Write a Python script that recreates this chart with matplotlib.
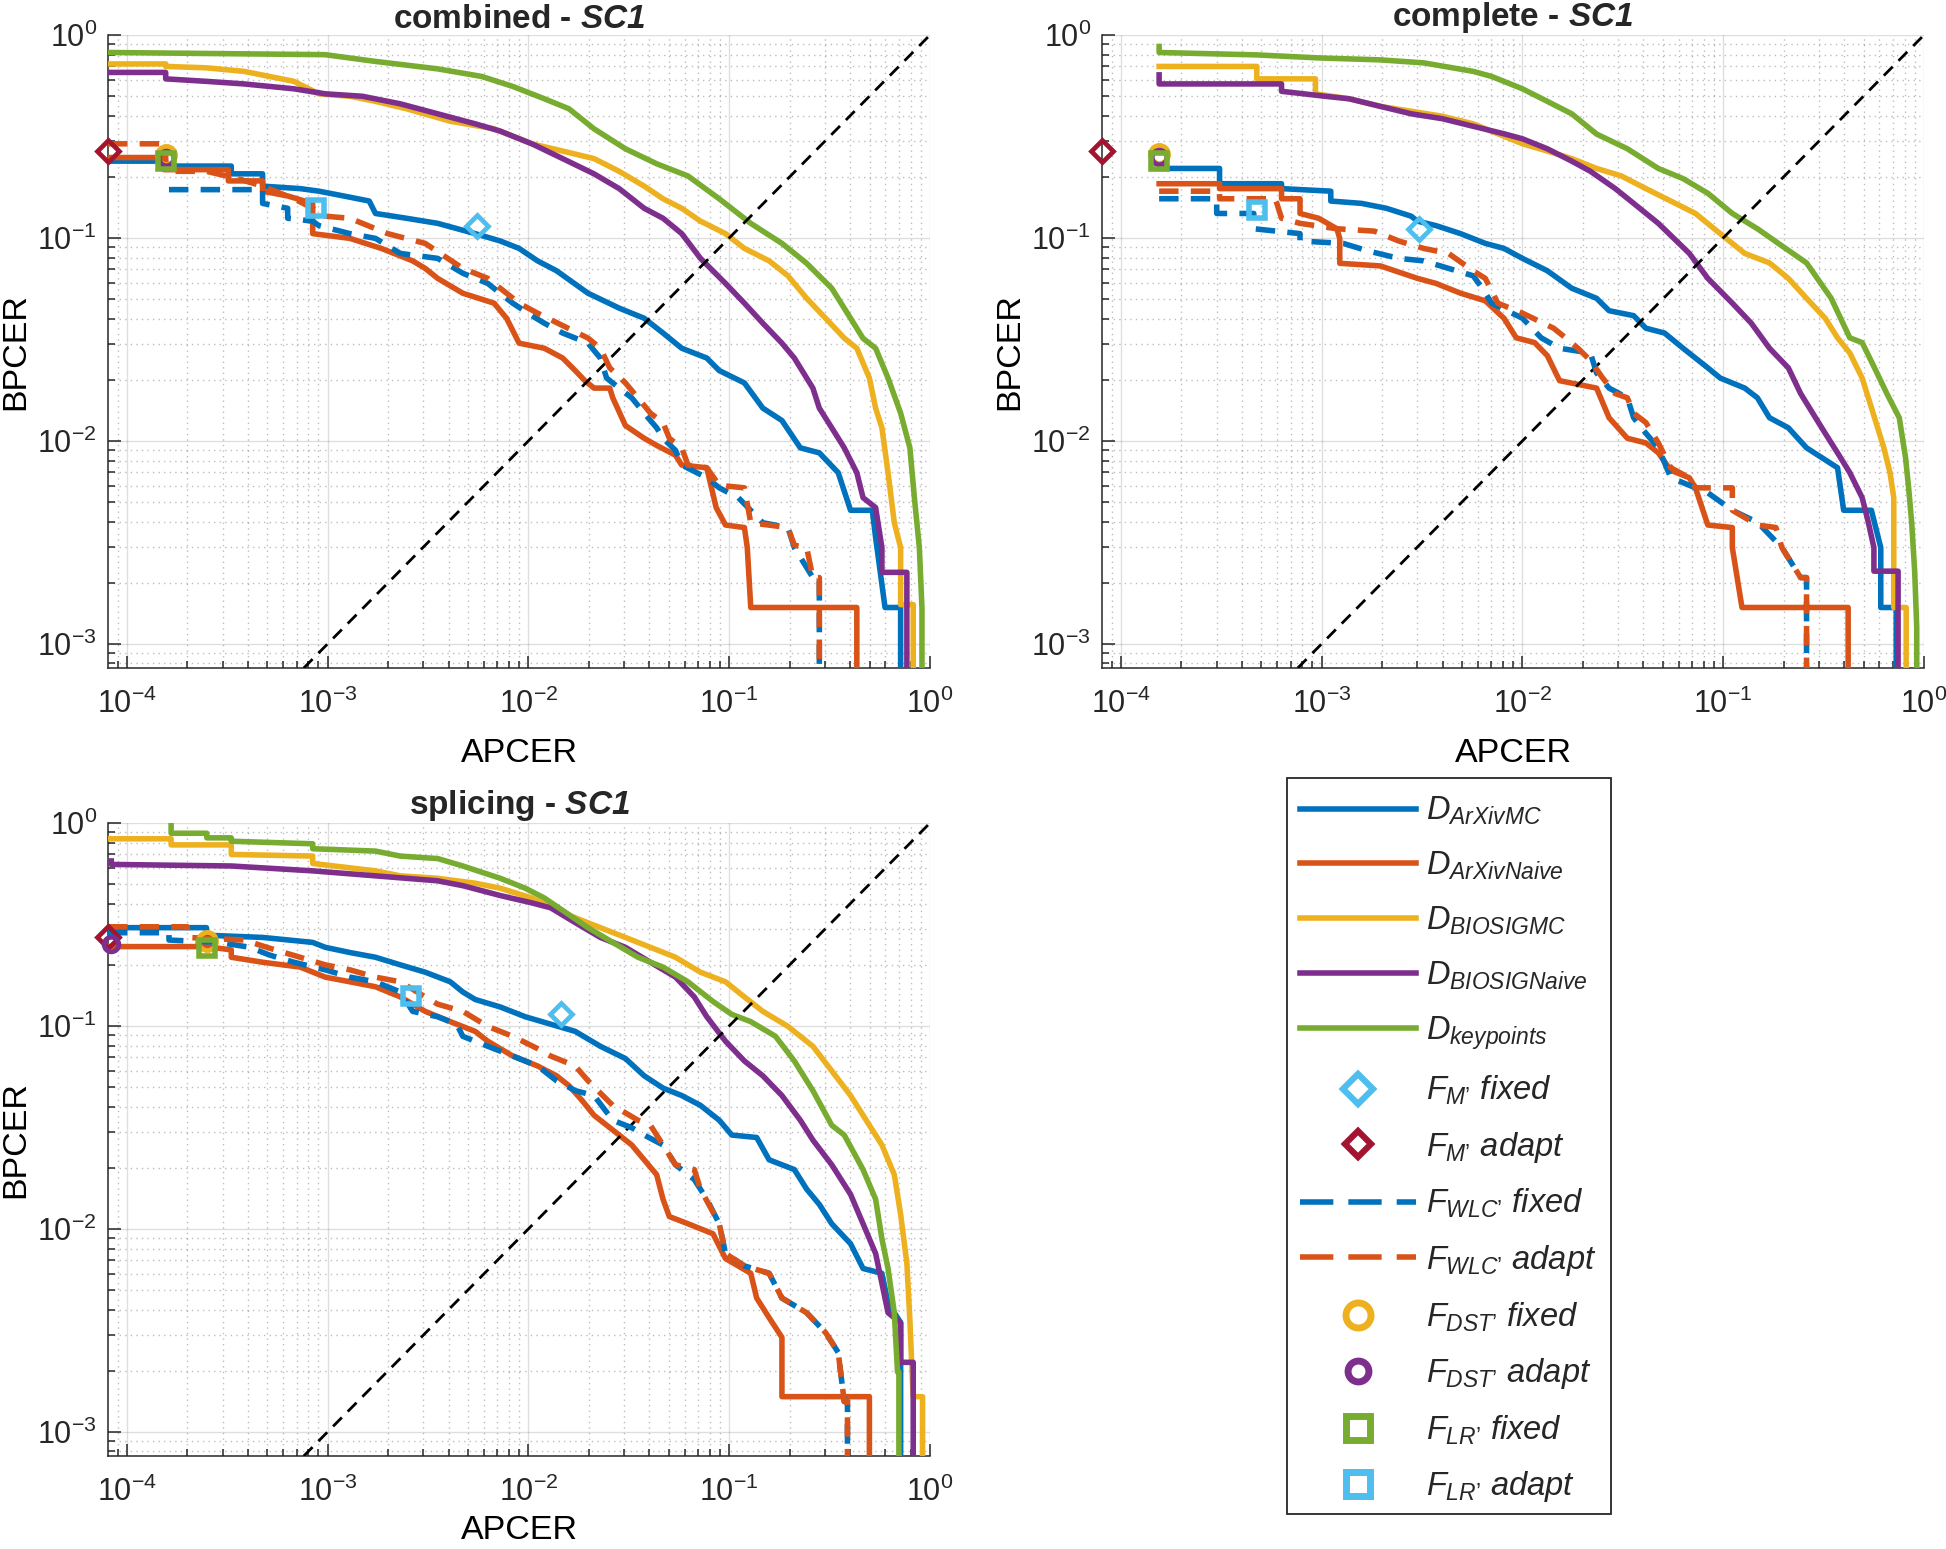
import matplotlib
matplotlib.use("Agg")
import matplotlib.pyplot as plt
import numpy as np
from matplotlib.lines import Line2D
from matplotlib.patches import Rectangle
from matplotlib.ticker import LogLocator, NullFormatter

plt.rcParams.update({
    "font.family": ["Liberation Sans", "DejaVu Sans"],
    "mathtext.fontset": "custom",
    "mathtext.rm": "Liberation Sans",
    "mathtext.it": "Liberation Sans:italic",
    "mathtext.bf": "Liberation Sans:bold",
    "mathtext.bfit": "Liberation Sans:italic:bold",
    "axes.edgecolor": "#262626",
    "xtick.color": "#262626",
    "ytick.color": "#262626",
    "text.color": "#262626",
})

# ---- data: (APCER, BPCER); BPCER 0 = curve runs off the bottom
# combined
CMB_MC = [(8.05e-5, 0.239), (1.56e-4, 0.239), (1.56e-4, 0.226), (3.31e-4, 0.226), (3.31e-4, 0.207),
          (4.74e-4, 0.207), (4.74e-4, 0.180), (7.29e-4, 0.175), (9.04e-4, 0.170), (1.20e-3, 0.161),
          (1.61e-3, 0.152), (1.73e-3, 0.132), (2.47e-3, 0.125), (3.53e-3, 0.118), (5.43e-3, 0.105),
          (7.24e-3, 0.0966), (8.98e-3, 0.0888), (0.0111, 0.0771), (0.0138, 0.0689), (0.0198, 0.0534),
          (0.0283, 0.0451), (0.0377, 0.0402), (0.0468, 0.0340), (0.0580, 0.0286), (0.0773, 0.0256),
          (0.0892, 0.0222), (0.119, 0.0193), (0.147, 0.0145), (0.183, 0.0126), (0.226, 0.00924),
          (0.281, 0.00873), (0.349, 0.00697), (0.402, 0.00455), (0.516, 0.00455), (0.536, 0.00334),
          (0.597, 0.00151), (0.714, 0.00151), (0.714, 0)]
CMB_NAIVE = [(8.05e-5, 0.249), (1.53e-4, 0.249), (1.53e-4, 0.217), (3.20e-4, 0.217), (3.20e-4, 0.191),
             (4.74e-4, 0.191), (4.74e-4, 0.170), (6.32e-4, 0.161), (8.42e-4, 0.148), (8.42e-4, 0.105),
             (1.29e-3, 0.0995), (1.85e-3, 0.0888), (2.65e-3, 0.0771), (3.06e-3, 0.0708), (3.53e-3, 0.0632),
             (4.71e-3, 0.0534), (6.74e-3, 0.0477), (7.78e-3, 0.0402), (8.98e-3, 0.0303), (0.0120, 0.0286),
             (0.0148, 0.0256), (0.0171, 0.0222), (0.0191, 0.0198), (0.0212, 0.0182), (0.0254, 0.0182),
             (0.0263, 0.0163), (0.0304, 0.0119), (0.0377, 0.0103), (0.0435, 0.0095), (0.0540, 0.0085),
             (0.0580, 0.0076), (0.0773, 0.00737), (0.0861, 0.00469), (0.0958, 0.00385), (0.119, 0.00374),
             (0.123, 0.00298), (0.128, 0.00151), (0.432, 0.00151), (0.432, 0)]
CMB_BMC = [(8.05e-5, 0.720), (1.56e-4, 0.720), (1.56e-4, 0.700), (2.49e-4, 0.689), (3.83e-4, 0.662),
           (6.79e-4, 0.591), (9.04e-4, 0.513), (1.29e-3, 0.499), (1.73e-3, 0.471), (2.47e-3, 0.433),
           (4.08e-3, 0.376), (6.74e-3, 0.345), (0.0104, 0.291), (0.0148, 0.268), (0.0212, 0.246),
           (0.0283, 0.213), (0.0377, 0.180), (0.0468, 0.156), (0.0580, 0.140), (0.0719, 0.121),
           (0.0958, 0.105), (0.119, 0.0888), (0.158, 0.0771), (0.196, 0.0651), (0.243, 0.0504),
           (0.302, 0.0402), (0.374, 0.0321), (0.432, 0.0286), (0.499, 0.0204), (0.536, 0.0145),
           (0.576, 0.0116), (0.618, 0.00697), (0.664, 0.00395), (0.714, 0.00298), (0.714, 0.00156),
           (0.825, 0.00156), (0.825, 0)]
CMB_BNAIVE = [(8.05e-5, 0.654), (1.56e-4, 0.654), (1.56e-4, 0.608), (2.49e-4, 0.591), (3.83e-4, 0.574),
              (6.79e-4, 0.543), (9.73e-4, 0.513), (1.49e-3, 0.499), (2.30e-3, 0.458), (3.53e-3, 0.409),
              (5.43e-3, 0.365), (7.24e-3, 0.336), (0.0104, 0.291), (0.0148, 0.246), (0.0212, 0.207),
              (0.0283, 0.175), (0.0377, 0.140), (0.0468, 0.125), (0.0580, 0.105), (0.0719, 0.0793),
              (0.0958, 0.0597), (0.119, 0.0477), (0.147, 0.0380), (0.183, 0.0303), (0.211, 0.0256),
              (0.261, 0.0182), (0.281, 0.0145), (0.324, 0.0116), (0.374, 0.00924), (0.432, 0.00697),
              (0.464, 0.00525), (0.536, 0.00469), (0.576, 0.00298), (0.576, 0.00225), (0.767, 0.00225),
              (0.767, 0)]
CMB_KP = [(8.05e-5, 0.820), (9.70e-4, 0.800), (1.73e-3, 0.741), (3.53e-3, 0.681), (5.84e-3, 0.625),
          (8.35e-3, 0.558), (0.0120, 0.485), (0.0159, 0.433), (0.0212, 0.345), (0.0304, 0.275),
          (0.0435, 0.232), (0.0623, 0.202), (0.0891, 0.156), (0.128, 0.118), (0.183, 0.094),
          (0.243, 0.075), (0.324, 0.0565), (0.402, 0.0402), (0.464, 0.032), (0.536, 0.0286),
          (0.618, 0.0204), (0.714, 0.0137), (0.794, 0.00924), (0.836, 0.00525), (0.885, 0.00298),
          (0.912, 0.0015), (0.912, 0)]
CMB_WLC_FIX = [(1.62e-4, 0.173), (4.74e-4, 0.173), (4.74e-4, 0.148), (6.32e-4, 0.140), (6.32e-4, 0.125),
               (8.42e-4, 0.121), (9.04e-4, 0.115), (1.29e-3, 0.105), (1.73e-3, 0.0995), (2.30e-3, 0.0839),
               (3.53e-3, 0.0793), (4.71e-3, 0.0670), (6.27e-3, 0.0597), (8.35e-3, 0.0477), (0.0104, 0.0414),
               (0.0120, 0.0380), (0.0148, 0.0340), (0.0198, 0.0303), (0.0228, 0.0256), (0.0245, 0.0204),
               (0.0283, 0.0182), (0.0327, 0.0163), (0.0377, 0.0137), (0.0435, 0.0116), (0.0468, 0.0103),
               (0.0540, 0.00898), (0.0580, 0.0076), (0.0773, 0.00658), (0.0892, 0.00587), (0.111, 0.00525),
               (0.147, 0.00395), (0.196, 0.00374), (0.211, 0.00298), (0.261, 0.00212), (0.281, 0.00212),
               (0.281, 0)]
CMB_WLC_ADA = [(8.05e-5, 0.291), (1.56e-4, 0.291), (1.56e-4, 0.213), (2.49e-4, 0.213), (3.56e-4, 0.196),
               (4.74e-4, 0.180), (6.79e-4, 0.156), (8.42e-4, 0.140), (9.73e-4, 0.128), (1.29e-3, 0.125),
               (1.99e-3, 0.105), (3.06e-3, 0.094), (4.71e-3, 0.0708), (6.27e-3, 0.0632), (7.78e-3, 0.0534),
               (8.98e-3, 0.0477), (0.0111, 0.0426), (0.0148, 0.0370), (0.0198, 0.0321), (0.0228, 0.0286),
               (0.0254, 0.0229), (0.0304, 0.0193), (0.0351, 0.0163), (0.0405, 0.0137), (0.0468, 0.0123),
               (0.0503, 0.0103), (0.0580, 0.00924), (0.0623, 0.0076), (0.0773, 0.00737), (0.0892, 0.00604),
               (0.119, 0.00587), (0.128, 0.00395), (0.196, 0.00374), (0.211, 0.00306), (0.243, 0.00298),
               (0.261, 0.00212), (0.281, 0.00212), (0.281, 0)]
CMB_POINTS = {"M_fix": (5.56e-3, 0.115), "M_ada": (8.05e-5, 0.268), "DST_fix": (1.57e-4, 0.255),
              "DST_ada": (1.57e-4, 0.248), "LR_fix": (1.57e-4, 0.240), "LR_ada": (8.73e-4, 0.140)}

# complete
CMP_MC = [(1.55e-4, 0.220), (3.10e-4, 0.220), (3.10e-4, 0.185), (6.31e-4, 0.185), (6.31e-4, 0.175),
          (1.11e-3, 0.170), (1.11e-3, 0.152), (1.58e-3, 0.148), (2.10e-3, 0.140), (2.79e-3, 0.128),
          (3.00e-3, 0.121), (3.71e-3, 0.115), (4.92e-3, 0.105), (6.53e-3, 0.094), (8.09e-3, 0.0888),
          (0.0100, 0.0793), (0.0133, 0.0689), (0.0176, 0.0565), (0.0234, 0.0504), (0.0270, 0.0438),
          (0.0358, 0.0414), (0.0412, 0.0359), (0.0510, 0.0340), (0.0631, 0.0286), (0.0838, 0.0229),
          (0.0966, 0.0204), (0.128, 0.0182), (0.148, 0.0163), (0.170, 0.0130), (0.211, 0.0116),
          (0.260, 0.00924), (0.371, 0.00737), (0.398, 0.00455), (0.547, 0.00455), (0.609, 0.00298),
          (0.609, 0.00151), (0.727, 0.00151), (0.727, 0)]
CMP_NAIVE = [(1.55e-4, 0.185), (3.10e-4, 0.185), (3.10e-4, 0.175), (6.31e-4, 0.175), (6.31e-4, 0.156),
             (7.80e-4, 0.156), (7.80e-4, 0.132), (9.66e-4, 0.125), (1.19e-3, 0.111), (1.23e-3, 0.0995),
             (1.23e-3, 0.075), (1.96e-3, 0.0728), (3.00e-3, 0.0632), (3.71e-3, 0.0597), (4.92e-3, 0.0534),
             (6.53e-3, 0.0490), (8.09e-3, 0.0402), (9.31e-3, 0.0322), (0.0115, 0.0305), (0.0133, 0.0263),
             (0.0153, 0.0198), (0.0234, 0.0182), (0.0270, 0.0130), (0.0333, 0.0103), (0.0412, 0.00977),
             (0.0475, 0.00873), (0.0548, 0.00716), (0.0678, 0.00658), (0.0727, 0.00587), (0.0838, 0.00385),
             (0.111, 0.00374), (0.111, 0.00298), (0.124, 0.00151), (0.419, 0.00151), (0.419, 0)]
CMP_BMC = [(1.55e-4, 0.700), (4.75e-4, 0.700), (4.75e-4, 0.608), (9.31e-4, 0.608), (9.31e-4, 0.513),
           (1.37e-3, 0.485), (1.96e-3, 0.445), (2.79e-3, 0.421), (3.98e-3, 0.398), (5.68e-3, 0.365),
           (8.09e-3, 0.317), (0.0100, 0.291), (0.0133, 0.268), (0.0176, 0.246), (0.0234, 0.220),
           (0.0311, 0.202), (0.0412, 0.175), (0.0548, 0.152), (0.0727, 0.132), (0.0966, 0.105),
           (0.128, 0.0839), (0.170, 0.0753), (0.211, 0.0632), (0.260, 0.0504), (0.322, 0.0402),
           (0.371, 0.0322), (0.427, 0.0271), (0.492, 0.0204), (0.567, 0.0130), (0.631, 0.00924),
           (0.677, 0.00697), (0.707, 0.00525), (0.707, 0.00151), (0.815, 0.00151), (0.815, 0)]
CMP_BNAIVE = [(1.55e-4, 0.636), (1.55e-4, 0.574), (6.31e-4, 0.574), (6.31e-4, 0.528), (1.04e-3, 0.499),
              (1.37e-3, 0.485), (1.96e-3, 0.445), (2.79e-3, 0.409), (3.98e-3, 0.387), (5.68e-3, 0.355),
              (8.09e-3, 0.326), (0.0100, 0.308), (0.0133, 0.275), (0.0176, 0.239), (0.0218, 0.213),
              (0.0290, 0.175), (0.0358, 0.148), (0.0475, 0.118), (0.0678, 0.0839), (0.0838, 0.0632),
              (0.111, 0.0477), (0.138, 0.0380), (0.170, 0.0286), (0.211, 0.0229), (0.243, 0.0171),
              (0.279, 0.0137), (0.322, 0.0109), (0.371, 0.00873), (0.427, 0.00697), (0.492, 0.00525),
              (0.528, 0.00397), (0.563, 0.00298), (0.563, 0.00228), (0.743, 0.00228), (0.743, 0)]
CMP_KP = [(1.55e-4, 0.878), (1.55e-4, 0.820), (4.75e-4, 0.798), (9.66e-4, 0.771), (1.96e-3, 0.754),
          (3.22e-3, 0.729), (5.68e-3, 0.662), (7.02e-3, 0.625), (0.0100, 0.543), (0.0133, 0.471),
          (0.0176, 0.409), (0.0234, 0.325), (0.0333, 0.275), (0.0475, 0.220), (0.0631, 0.196),
          (0.0838, 0.166), (0.111, 0.132), (0.148, 0.111), (0.196, 0.0914), (0.260, 0.0753),
          (0.345, 0.0504), (0.427, 0.0322), (0.492, 0.0305), (0.567, 0.0229), (0.653, 0.0171),
          (0.753, 0.0130), (0.809, 0.00828), (0.838, 0.00590), (0.868, 0.00397), (0.899, 0.00226),
          (0.92, 0.00120), (0.92, 0)]
CMP_WLC_FIX = [(1.55e-4, 0.156), (3.00e-4, 0.156), (3.00e-4, 0.132), (4.59e-4, 0.132), (4.59e-4, 0.111),
               (7.80e-4, 0.105), (7.80e-4, 0.0966), (1.28e-3, 0.094), (1.70e-3, 0.0863), (2.42e-3, 0.0793),
               (3.22e-3, 0.0771), (4.28e-3, 0.0708), (5.68e-3, 0.0651), (6.31e-3, 0.0565), (7.02e-3, 0.0477),
               (0.0100, 0.0402), (0.0124, 0.0322), (0.0153, 0.0286), (0.0218, 0.0271), (0.0234, 0.0216),
               (0.0270, 0.0182), (0.0333, 0.0163), (0.0358, 0.0130), (0.0412, 0.0109), (0.0475, 0.00924),
               (0.0548, 0.00658), (0.0631, 0.00622), (0.0727, 0.00587), (0.0838, 0.00555), (0.111, 0.00455),
               (0.148, 0.00397), (0.196, 0.00298), (0.243, 0.00212), (0.260, 0.00212), (0.260, 0)]
CMP_WLC_ADA = [(1.55e-4, 0.170), (3.10e-4, 0.170), (3.10e-4, 0.156), (5.88e-4, 0.156), (6.31e-4, 0.125),
               (7.80e-4, 0.118), (1.19e-3, 0.111), (1.83e-3, 0.108), (2.42e-3, 0.0966), (3.22e-3, 0.0888),
               (4.28e-3, 0.0839), (5.68e-3, 0.0689), (6.53e-3, 0.0632), (7.54e-3, 0.0477), (0.0100, 0.0426),
               (0.0143, 0.0359), (0.0164, 0.0322), (0.0189, 0.0286), (0.0218, 0.0249), (0.0251, 0.0204),
               (0.0290, 0.0171), (0.0333, 0.0163), (0.0358, 0.0137), (0.0412, 0.0123), (0.0475, 0.00977),
               (0.0548, 0.00737), (0.0678, 0.00658), (0.0727, 0.00587), (0.111, 0.00587), (0.111, 0.00455),
               (0.148, 0.00385), (0.183, 0.00374), (0.196, 0.00298), (0.243, 0.00212), (0.260, 0.00212),
               (0.260, 0)]
CMP_POINTS = {"M_fix": (3.04e-3, 0.111), "M_ada": (8.05e-5, 0.268), "DST_fix": (1.55e-4, 0.258),
              "DST_ada": (1.55e-4, 0.250), "LR_fix": (1.55e-4, 0.240), "LR_ada": (4.75e-4, 0.138)}

# splicing
SPL_MC = [(8.05e-5, 0.305), (2.49e-4, 0.305), (2.49e-4, 0.280), (4.74e-4, 0.273), (8.42e-4, 0.258),
          (9.73e-4, 0.244), (1.29e-3, 0.230), (1.73e-3, 0.218), (2.30e-3, 0.200), (3.06e-3, 0.184),
          (4.08e-3, 0.165), (4.71e-3, 0.147), (5.43e-3, 0.135), (7.24e-3, 0.124), (9.64e-3, 0.111),
          (0.0129, 0.102), (0.0171, 0.094), (0.0228, 0.0794), (0.0304, 0.0691), (0.0377, 0.0568),
          (0.0468, 0.0494), (0.0580, 0.0454), (0.0719, 0.0406), (0.0892, 0.0343), (0.103, 0.0290),
          (0.137, 0.0282), (0.158, 0.0219), (0.211, 0.0196), (0.243, 0.0157), (0.281, 0.0132),
          (0.324, 0.0106), (0.402, 0.00845), (0.464, 0.00638), (0.576, 0.00604), (0.618, 0.00432),
          (0.714, 0.00345), (0.714, 0)]
SPL_NAIVE = [(8.05e-5, 0.246), (2.49e-4, 0.246), (3.31e-4, 0.237), (3.31e-4, 0.218), (4.74e-4, 0.206),
             (7.29e-4, 0.195), (9.73e-4, 0.174), (1.29e-3, 0.165), (1.73e-3, 0.156), (2.30e-3, 0.139),
             (3.06e-3, 0.118), (4.08e-3, 0.105), (5.43e-3, 0.094), (6.27e-3, 0.0841), (8.35e-3, 0.0711),
             (0.0111, 0.0635), (0.0138, 0.0568), (0.0159, 0.0508), (0.0185, 0.0429), (0.0212, 0.0363),
             (0.0263, 0.0307), (0.0327, 0.0259), (0.0377, 0.0219), (0.0435, 0.0185), (0.0468, 0.0140),
             (0.0503, 0.0115), (0.0623, 0.0106), (0.0830, 0.00946), (0.0958, 0.00714), (0.128, 0.00604),
             (0.137, 0.00456), (0.158, 0.00365), (0.183, 0.00292), (0.183, 0.00149), (0.499, 0.00149),
             (0.499, 0)]
SPL_BMC = [(8.05e-5, 0.836), (1.66e-4, 0.836), (1.66e-4, 0.780), (3.31e-4, 0.780), (3.31e-4, 0.700),
           (8.42e-4, 0.687), (8.42e-4, 0.632), (1.73e-3, 0.581), (2.30e-3, 0.549), (3.53e-3, 0.534),
           (5.43e-3, 0.505), (7.24e-3, 0.477), (0.0104, 0.427), (0.0148, 0.361), (0.0228, 0.305),
           (0.0304, 0.273), (0.0405, 0.244), (0.0540, 0.218), (0.0719, 0.184), (0.0958, 0.165),
           (0.119, 0.139), (0.147, 0.118), (0.196, 0.0995), (0.261, 0.0794), (0.324, 0.0601),
           (0.402, 0.0454), (0.499, 0.0324), (0.576, 0.0259), (0.664, 0.0185), (0.714, 0.0118),
           (0.767, 0.00676), (0.795, 0.00345), (0.824, 0.00149), (0.918, 0.00149), (0.918, 0)]
SPL_BNAIVE = [(8.36e-5, 0.650), (8.36e-5, 0.625), (3.31e-4, 0.614), (8.42e-4, 0.581), (1.73e-3, 0.549),
              (3.53e-3, 0.519), (4.71e-3, 0.491), (7.24e-3, 0.439), (0.0104, 0.404), (0.0129, 0.382),
              (0.0171, 0.323), (0.0228, 0.273), (0.0304, 0.244), (0.0405, 0.206), (0.0540, 0.174),
              (0.0670, 0.139), (0.0773, 0.111), (0.0958, 0.0841), (0.119, 0.0672), (0.147, 0.0568),
              (0.183, 0.0454), (0.226, 0.0343), (0.261, 0.0274), (0.324, 0.0207), (0.402, 0.0148),
              (0.464, 0.0106), (0.536, 0.00756), (0.576, 0.00540), (0.618, 0.00386), (0.714, 0.00345),
              (0.714, 0.00220), (0.825, 0.00220), (0.825, 0)]
SPL_KP = [(1.66e-4, 1.0), (1.66e-4, 0.890), (2.50e-4, 0.890), (2.50e-4, 0.845), (3.31e-4, 0.845),
          (3.31e-4, 0.813), (8.42e-4, 0.790), (8.42e-4, 0.747), (1.73e-3, 0.727), (2.30e-3, 0.687),
          (3.53e-3, 0.668), (4.71e-3, 0.614), (7.24e-3, 0.534), (9.64e-3, 0.477), (0.0120, 0.427),
          (0.0148, 0.371), (0.0198, 0.305), (0.0263, 0.258), (0.0351, 0.218), (0.0468, 0.195),
          (0.0623, 0.165), (0.0830, 0.132), (0.103, 0.114), (0.128, 0.105), (0.170, 0.0889),
          (0.211, 0.0672), (0.261, 0.0480), (0.324, 0.0324), (0.374, 0.0290), (0.464, 0.0196),
          (0.536, 0.0140), (0.576, 0.00894), (0.618, 0.00638), (0.664, 0.00386), (0.689, 0.00197),
          (0.700, 0.00197), (0.700, 0)]
SPL_WLC_FIX = [(8.05e-5, 0.288), (1.62e-4, 0.288), (1.62e-4, 0.265), (2.87e-4, 0.258), (4.11e-4, 0.244),
               (5.10e-4, 0.224), (6.79e-4, 0.206), (9.73e-4, 0.189), (1.29e-3, 0.174), (1.73e-3, 0.165),
               (2.30e-3, 0.147), (2.65e-3, 0.118), (3.53e-3, 0.111), (4.39e-3, 0.102), (4.71e-3, 0.0889),
               (6.27e-3, 0.0794), (8.35e-3, 0.0711), (0.0111, 0.0635), (0.0138, 0.0537), (0.0171, 0.0480),
               (0.0212, 0.0454), (0.0263, 0.0343), (0.0327, 0.0315), (0.0377, 0.0290), (0.0468, 0.0259),
               (0.0540, 0.0207), (0.0670, 0.0175), (0.0773, 0.0140), (0.0892, 0.0106), (0.0958, 0.00756),
               (0.119, 0.00657), (0.158, 0.00604), (0.183, 0.00456), (0.243, 0.00386), (0.302, 0.00308),
               (0.349, 0.00246), (0.374, 0.00141), (0.388, 0.00141), (0.388, 0)]
SPL_WLC_ADA = [(8.05e-5, 0.308), (2.00e-4, 0.308), (2.00e-4, 0.273), (3.83e-4, 0.265), (5.47e-4, 0.237),
               (7.29e-4, 0.218), (9.73e-4, 0.200), (1.29e-3, 0.189), (1.73e-3, 0.174), (2.30e-3, 0.165),
               (3.06e-3, 0.139), (3.53e-3, 0.128), (4.71e-3, 0.118), (6.27e-3, 0.0995), (8.35e-3, 0.0889),
               (0.0111, 0.0773), (0.0129, 0.0711), (0.0171, 0.0635), (0.0198, 0.0537), (0.0228, 0.0467),
               (0.0263, 0.0406), (0.0351, 0.0343), (0.0405, 0.0324), (0.0468, 0.0259), (0.0540, 0.0207),
               (0.0670, 0.0196), (0.0719, 0.0157), (0.0892, 0.0106), (0.0958, 0.00756), (0.119, 0.00657),
               (0.158, 0.00604), (0.183, 0.00456), (0.243, 0.00386), (0.302, 0.00308), (0.349, 0.00246),
               (0.374, 0.00141), (0.388, 0.00141), (0.388, 0)]
SPL_POINTS = {"M_fix": (0.0146, 0.114), "M_ada": (8.05e-5, 0.274), "DST_fix": (2.51e-4, 0.262),
              "DST_ada": (8.36e-5, 0.254), "LR_fix": (2.51e-4, 0.242), "LR_ada": (2.59e-3, 0.141)}

PANEL_TITLES = ["combined", "complete", "splicing"]
SCENARIO = "SC1"
XLIM = (8.05e-5, 1.0)
YLIM = (7.6e-4, 1.0)

D_NAMES = ["ArXivMC", "ArXivNaive", "BIOSIGMC", "BIOSIGNaive", "keypoints"]
F_LABELS = ["M’ fixed", "M’ adapt", "WLC’ fixed", "WLC’ adapt",
            "DST’ fixed", "DST’ adapt", "LR’ fixed", "LR’ adapt"]
D_COLORS = ["#0072BD", "#D95319", "#EDB120", "#7E2F8E", "#77AC30"]
LIGHT_BLUE = "#4DBEEE"
DARK_RED = "#A2142F"

PANELS = {
    "combined": ([CMB_MC, CMB_NAIVE, CMB_BMC, CMB_BNAIVE, CMB_KP], CMB_WLC_FIX, CMB_WLC_ADA, CMB_POINTS),
    "complete": ([CMP_MC, CMP_NAIVE, CMP_BMC, CMP_BNAIVE, CMP_KP], CMP_WLC_FIX, CMP_WLC_ADA, CMP_POINTS),
    "splicing": ([SPL_MC, SPL_NAIVE, SPL_BMC, SPL_BNAIVE, SPL_KP], SPL_WLC_FIX, SPL_WLC_ADA, SPL_POINTS),
}

LW = 4.0
DASHES = (3.5, 2.2)
MARKERS = {
    "M_fix": dict(marker="D", color=LIGHT_BLUE, ms=11, mew=3.4),
    "M_ada": dict(marker="D", color=DARK_RED, ms=11, mew=3.4),
    "DST_fix": dict(marker="o", color="#EDB120", ms=13, mew=3.5),
    "DST_ada": dict(marker="o", color="#7E2F8E", ms=10.5, mew=3.5),
    "LR_fix": dict(marker="s", color="#77AC30", ms=12, mew=4),
    "LR_ada": dict(marker="s", color=LIGHT_BLUE, ms=12, mew=4),
}


def _xy(points):
    arr = np.asarray(points, dtype=float)
    y = np.where(arr[:, 1] > 0, arr[:, 1], YLIM[0])
    return arr[:, 0], y


def _marker(ax, key, xy):
    m = MARKERS[key]
    ax.plot([xy[0]], [xy[1]], linestyle="none", marker=m["marker"], ms=m["ms"],
            mew=m["mew"], mec=m["color"], mfc="none", clip_on=False, zorder=5)


def draw_panel(ax, name, xlabelpad):
    d_curves, wlc_fix, wlc_ada, pts = PANELS[name]
    ax.set_xscale("log")
    ax.set_yscale("log")
    for curve, col in zip(d_curves, D_COLORS):
        x, y = _xy(curve)
        ax.plot(x, y, color=col, lw=LW, zorder=3)
    diag = np.array(YLIM)
    ax.plot(diag, diag, color="black", lw=2.0, ls=(0, (4.5, 3)), zorder=4)
    _marker(ax, "M_fix", pts["M_fix"])
    _marker(ax, "M_ada", pts["M_ada"])
    x, y = _xy(wlc_fix)
    ax.plot(x, y, color=D_COLORS[0], lw=LW, ls=(0, DASHES), zorder=4)
    x, y = _xy(wlc_ada)
    ax.plot(x, y, color=D_COLORS[1], lw=LW, ls=(0, DASHES), zorder=4)
    for key in ("DST_fix", "DST_ada", "LR_fix", "LR_ada"):
        _marker(ax, key, pts[key])

    ax.set_xlim(*XLIM)
    ax.set_ylim(*YLIM)
    ax.xaxis.set_major_locator(LogLocator(base=10, numticks=10))
    ax.yaxis.set_major_locator(LogLocator(base=10, numticks=10))
    ax.xaxis.set_minor_locator(LogLocator(base=10, subs=np.arange(2, 10), numticks=20))
    ax.yaxis.set_minor_locator(LogLocator(base=10, subs=np.arange(2, 10), numticks=20))
    ax.xaxis.set_minor_formatter(NullFormatter())
    ax.yaxis.set_minor_formatter(NullFormatter())
    ax.tick_params(which="both", direction="in", top=False, right=False, width=1.1)
    ax.tick_params(which="major", length=9, labelsize=22)
    ax.tick_params(axis="x", which="major", pad=15)
    ax.tick_params(axis="y", which="major", pad=8)
    ax.tick_params(which="minor", length=5)
    ax.grid(which="major", color="#262626", alpha=0.15, lw=1.0, ls="-")
    ax.grid(which="minor", color="#262626", alpha=0.3, lw=1.0, ls=(0, (1, 3)))
    ax.set_axisbelow(True)
    for s in ("top", "right"):
        ax.spines[s].set_visible(False)
    for s in ("left", "bottom"):
        ax.spines[s].set_linewidth(1.1)
    ax.set_xlabel("APCER", fontsize=24.5, labelpad=xlabelpad)
    ax.set_ylabel("BPCER", fontsize=24.5, labelpad=4)
    ax.set_title(name + r" - $\mathbfit{" + SCENARIO + "}$", fontsize=24, fontweight="bold", pad=2)


fig = plt.figure(figsize=(19.46, 15.49), dpi=100)
W, H = 1946, 1549
boxes = {"combined": (108, 35, 13), "complete": (1102, 35, 13), "splicing": (108, 823, 5)}
for name in PANEL_TITLES:
    left, top, lp = boxes[name]
    ax = fig.add_axes([left / W, 1 - (top + 633) / H, 822 / W, 633 / H])
    draw_panel(ax, name, lp)

# legend: frame drawn as a figure rectangle, entries by fig.legend
handles = [Line2D([], [], color=c, lw=LW) for c in D_COLORS]
labels = [r"$D_{" + n + "}$" for n in D_NAMES]
handles += [
    Line2D([], [], ls="none", marker="D", ms=15, mew=4.5, mec=LIGHT_BLUE, mfc="none"),
    Line2D([], [], ls="none", marker="D", ms=13, mew=4.5, mec=DARK_RED, mfc="none"),
    Line2D([], [], color=D_COLORS[0], lw=LW, ls=(0, (6, 2.7))),
    Line2D([], [], color=D_COLORS[1], lw=LW, ls=(0, (6, 2.7))),
    Line2D([], [], ls="none", marker="o", ms=18, mew=5, mec="#EDB120", mfc="none"),
    Line2D([], [], ls="none", marker="o", ms=15, mew=5, mec="#7E2F8E", mfc="none"),
    Line2D([], [], ls="none", marker="s", ms=17, mew=5, mec="#77AC30", mfc="none"),
    Line2D([], [], ls="none", marker="s", ms=17, mew=5, mec=LIGHT_BLUE, mfc="none"),
]
for lab in F_LABELS:
    sub, word = lab.split(" ")
    labels.append(r"$F_{" + sub + r"}\ " + word + "$")

fig.add_artist(Rectangle((1287 / W, 1 - 1514 / H), 324 / W, 736 / H, transform=fig.transFigure,
                         facecolor="white", edgecolor="#262626", lw=1.3, zorder=1))
leg = fig.legend(handles, labels, loc="upper left", bbox_to_anchor=(1287 / W, 1 - 782 / H),
                 borderaxespad=0, fontsize=23.5, handlelength=3.55, handletextpad=0.31,
                 labelspacing=0.685, borderpad=0.4, frameon=False)
leg.set_zorder(2)

fig.savefig("out.png", dpi=100)
